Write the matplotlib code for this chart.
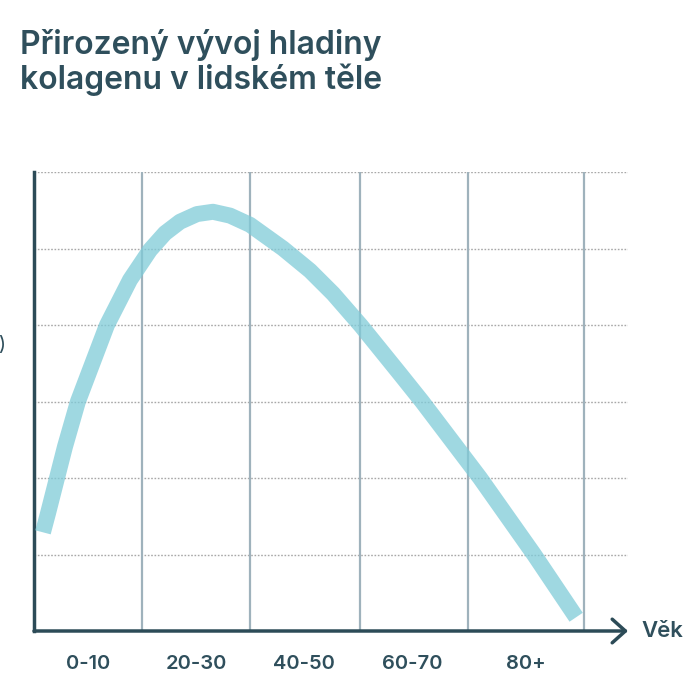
import numpy as np
import matplotlib.pyplot as plt

##############################################
# Data
##############################################
age_labels = ["0-10", "20-30", "40-50", "60-70", "80+"]
label_pos = [0.5, 1.5, 2.5, 3.5, 4.55]
col_edges = [1, 2, 3.02, 4.02, 5.09]
row_levels = [1, 2, 3, 4, 5, 6]

# collagen curve (x in age columns, y in grid rows)
curve_x = [0.083, 0.130, 0.213, 0.287, 0.407, 0.676, 0.889, 1.074, 1.213,
           1.352, 1.509, 1.657, 1.815, 2.0, 2.306, 2.556, 2.769, 3.028,
           3.389, 3.593, 4.13, 4.63, 5.02]
curve_y = [1.29, 1.54, 2.0, 2.41, 3.0, 4.0, 4.59, 4.98, 5.20,
           5.35, 5.45, 5.48, 5.43, 5.31, 5.0, 4.71, 4.41, 3.99,
           3.36, 3.0, 2.0, 1.0, 0.18]

TEXT = "#2f4f5c"
AXIS = "#2c4b57"

plt.rcParams['font.family'] = ['Inter', 'DejaVu Sans']

##############################################
# Plot
##############################################
fig = plt.figure(figsize=(6.9, 6.81), dpi=100)
ax = fig.add_axes([34/690, 50/681, 594/690, 459/681])
ax.set_xlim(0, 5.5)
ax.set_ylim(0, 6)

# grid
for y in row_levels:
    ax.axhline(y, color="#a8a8a8", lw=1.0, ls=(0, (1.2, 1.2)), zorder=1)
for x in col_edges:
    ax.plot([x, x], [0, 6], color="#9fb2bc", lw=1.6, zorder=1)

# curve
ax.plot(curve_x, curve_y, color="#7fcbd8", alpha=0.75, lw=11.5,
        solid_capstyle="butt", solid_joinstyle="round", zorder=3)

# axes
for s in ["top", "right", "bottom"]:
    ax.spines[s].set_visible(False)
ax.spines["left"].set_color(AXIS)
ax.spines["left"].set_linewidth(2.5)
ax.set_yticks([])
ax.annotate("", xy=(5.5, 0), xytext=(0, 0), xycoords="data",
            arrowprops=dict(arrowstyle="->,head_length=0.95,head_width=0.85",
                            color=AXIS, lw=2.5, mutation_scale=10,
                            shrinkA=0, shrinkB=0),
            annotation_clip=False, zorder=4)
ax.text(5.62, 0, "Věk", ha="left", va="center", fontsize=16,
        fontweight="semibold", color=TEXT)

ax.set_xticks(label_pos)
ax.set_xticklabels(age_labels, fontsize=14.5, fontweight="semibold", color=TEXT)
ax.tick_params(axis="x", length=0, pad=17)

# title
fig.text(20/690, 1 - 29/681, "Přirozený vývoj hladiny\nkolagenu v lidském těle",
         ha="left", va="top", fontsize=23, fontweight="semibold",
         color=TEXT, linespacing=1.1)

# cut-off label fragment at left edge
fig.text(5/690, 1 - 345/681, ")", ha="right", va="center", fontsize=14,
         color=TEXT)

fig.savefig("out.png", dpi=100, facecolor="white")
